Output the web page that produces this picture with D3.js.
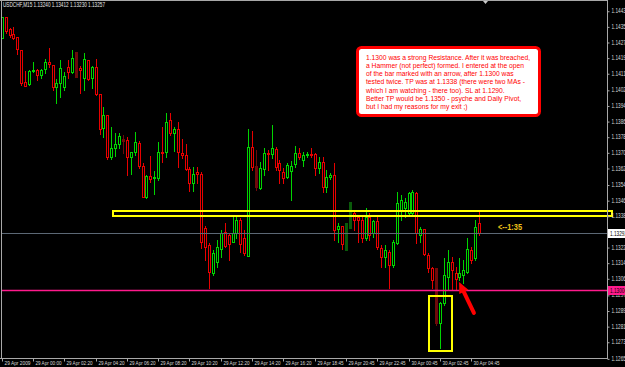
<!DOCTYPE html>
<html>
<head>
<meta charset="utf-8">
<script src="https://cdn.jsdelivr.net/npm/d3@7"></script>
<style>
html,body{margin:0;padding:0;background:#000;overflow:hidden}
svg{display:block}
</style>
</head>
<body>
<svg id="chart"></svg>
<script>
// USDCHF M15 bars
var opens=[1.14290,1.14398,1.14336,1.14311,1.14296,1.14229,1.14065,1.14055,1.14121,1.14127,
1.14101,1.14132,1.14168,1.14152,1.14040,1.14060,1.14040,1.14142,1.14116,1.14219,
1.14137,1.14086,1.14178,1.14086,1.14142,1.14004,1.13830,1.13896,1.13681,1.13727,
1.13748,1.13773,1.13768,1.13681,1.13707,1.13753,1.13635,1.13476,1.13584,1.13574,
1.13574,1.13707,1.13707,1.13871,1.13804,1.13825,1.13702,1.13691,1.13620,1.13548,
1.13604,1.13594,1.13318,1.13231,1.13087,1.13144,1.13210,1.13297,1.13282,1.13246,
1.13292,1.13359,1.13266,1.13174,1.13732,1.13635,1.13522,1.13620,1.13702,1.13697,
1.13722,1.13650,1.13604,1.13579,1.13609,1.13645,1.13702,1.13666,1.13691,1.13697,
1.13697,1.13625,1.13656,1.13528,1.13579,1.13589,1.13313,1.13328,1.13205,1.13318,
1.13394,1.13374,1.13359,1.13266,1.13374,1.13292,1.13353,1.13215,1.13169,1.13195,
1.13128,1.13241,1.13410,1.13420,1.13394,1.13394,1.13497,1.13282,1.13313,1.13179,
1.13113,1.13113,1.12831,1.12934,1.13067,1.13144,1.13087,1.13067,1.13077,1.13092,
1.13205,1.13164,1.13343];
var highs=[1.14398,1.14398,1.14342,1.14347,1.14296,1.14229,1.14121,1.14127,1.14168,1.14132,
1.14132,1.14183,1.14239,1.14152,1.14081,1.14178,1.14116,1.14178,1.14229,1.14219,
1.14147,1.14214,1.14178,1.14147,1.14183,1.14004,1.13937,1.13896,1.13835,1.13804,
1.13804,1.13794,1.13784,1.13707,1.13809,1.13763,1.13650,1.13589,1.13686,1.13609,
1.13758,1.13835,1.13906,1.13906,1.13835,1.13860,1.13773,1.13748,1.13630,1.13630,
1.13630,1.13604,1.13328,1.13241,1.13205,1.13256,1.13307,1.13343,1.13292,1.13374,
1.13384,1.13369,1.13307,1.13825,1.13814,1.13717,1.13656,1.13727,1.13717,1.13845,
1.13732,1.13666,1.13625,1.13650,1.13661,1.13737,1.13727,1.13707,1.13707,1.13727,
1.13702,1.13681,1.13681,1.13615,1.13599,1.13650,1.13343,1.13328,1.13343,1.13451,
1.13400,1.13384,1.13374,1.13420,1.13394,1.13359,1.13384,1.13231,1.13231,1.13205,
1.13256,1.13502,1.13487,1.13471,1.13502,1.13512,1.13502,1.13323,1.13313,1.13190,
1.13118,1.13113,1.12939,1.13164,1.13205,1.13169,1.13118,1.13164,1.13154,1.13266,
1.13220,1.13359,1.13400];
var lows=[1.14290,1.14316,1.14296,1.14285,1.14209,1.14050,1.14045,1.14050,1.14116,1.14075,
1.14086,1.14111,1.14142,1.14024,1.13958,1.13988,1.14024,1.14086,1.14111,1.14091,
1.14009,1.14024,1.14075,1.14034,1.13999,1.13799,1.13784,1.13671,1.13671,1.13686,
1.13727,1.13702,1.13589,1.13594,1.13691,1.13625,1.13476,1.13471,1.13553,1.13492,
1.13563,1.13656,1.13681,1.13794,1.13712,1.13630,1.13676,1.13615,1.13507,1.13507,
1.13548,1.13215,1.13154,1.13010,1.13077,1.13118,1.13169,1.13220,1.13154,1.13246,
1.13266,1.13195,1.13179,1.13174,1.13615,1.13512,1.13517,1.13589,1.13615,1.13676,
1.13615,1.13548,1.13548,1.13574,1.13461,1.13630,1.13671,1.13635,1.13681,1.13681,
1.13589,1.13599,1.13502,1.13502,1.13569,1.13256,1.13246,1.13210,1.13205,1.13318,
1.13307,1.13246,1.13246,1.13256,1.13256,1.13272,1.13210,1.13118,1.13118,1.13010,
1.13118,1.13236,1.13359,1.13374,1.13384,1.13384,1.13241,1.13246,1.13179,1.13092,
1.13010,1.12821,1.12703,1.12923,1.13000,1.13000,1.13000,1.13051,1.13036,1.13087,
1.13138,1.13154,1.13282];
var closes=[1.14398,1.14326,1.14306,1.14290,1.14234,1.14060,1.14045,1.14121,1.14127,1.14101,
1.14127,1.14168,1.14157,1.14040,1.14060,1.14137,1.14096,1.14116,1.14188,1.14091,
1.14127,1.14183,1.14081,1.14142,1.14004,1.13825,1.13896,1.13681,1.13727,1.13748,
1.13789,1.13763,1.13681,1.13707,1.13758,1.13635,1.13476,1.13584,1.13569,1.13579,
1.13707,1.13702,1.13860,1.13804,1.13825,1.13707,1.13691,1.13620,1.13548,1.13594,
1.13594,1.13246,1.13220,1.13092,1.13190,1.13220,1.13292,1.13225,1.13236,1.13292,
1.13359,1.13236,1.13190,1.13732,1.13630,1.13528,1.13625,1.13702,1.13697,1.13727,
1.13630,1.13615,1.13574,1.13640,1.13635,1.13702,1.13681,1.13691,1.13697,1.13691,
1.13625,1.13656,1.13528,1.13579,1.13589,1.13307,1.13328,1.13236,1.13343,1.13451,
1.13359,1.13359,1.13266,1.13374,1.13282,1.13353,1.13220,1.13169,1.13205,1.13128,
1.13246,1.13446,1.13461,1.13451,1.13497,1.13502,1.13292,1.13313,1.13185,1.13113,
1.13051,1.12831,1.12934,1.13077,1.13144,1.13103,1.13057,1.13087,1.13103,1.13210,
1.13154,1.13323,1.13292];
// bars drawn in the dark "ghost" colours
var dimBars=[19,31,65,88,89,111];

var priceTicks=[1.14430,1.14350,1.14270,1.14190,1.14110,1.14025,1.13945,1.13865,1.13785,1.13705,
1.13625,1.13540,1.13460,1.13380,1.13220,1.13140,1.13060,1.12975,1.12895,1.12815,1.12735,1.12650];
var timeTickBars=[0,8,16,24,32,40,48,56,64,72,80,88,96,104,112,120];
var timeLabels=["29 Apr 2009","29 Apr 00:00","29 Apr 02:20","29 Apr 04:20","29 Apr 06:20","29 Apr 08:20",
"29 Apr 10:20","29 Apr 12:20","29 Apr 14:20","29 Apr 16:20","29 Apr 18:45","29 Apr 20:45",
"29 Apr 22:45","30 Apr 00:45","30 Apr 02:45","30 Apr 04:45"];
var titleText="USDCHF,M15  1.13240 1.13412 1.13230 1.13257";

var resistanceZone=[1.13379,1.13405];   // yellow rectangle
var resistanceFrom=28.5, resistanceTo=156;
var supportLevel=1.13000;               // pink line
var hammerBox={from:109.1,to:115.2,top:1.12970,bottom:1.12688};
var arrowTail=[120.7,1.12883], arrowTip=[116.9,1.13041];
var timerText="<--1:35";
var noteLines=[
"1.1300 was a strong Resistance. After it was breached,",
"a Hammer (not perfect) formed. I entered at the open",
"of the bar marked with an arrow, after 1.1300 was",
"tested twice. TP was at 1.1338 (there were two MAs -",
"which I am watching - there too). SL at 1.1290.",
"Better TP would be 1.1350 - psyche and Daily Pivot,",
"but I had my reasons for my exit ;)"];

var W=625,H=367;
var UP="#00d400",DN="#e80000",UPDIM="#0a5a0a",DNDIM="#6e0a0a";
var FONT="'Liberation Sans',Arial,sans-serif";
var svg=d3.select("#chart").attr("width",W).attr("height",H);
svg.append("rect").attr("width",W).attr("height",H).attr("fill","#000");

var x=d3.scaleLinear().domain([0,122]).range([1.7,479]);
var y=d3.scaleLinear().domain([supportLevel,1.14485]).range([290,0]);
var px=function(i){return Math.round(x(i));};
var py=function(p){return Math.round(y(p));};

svg.append("clipPath").attr("id","plot").append("rect")
	.attr("x",2).attr("y",1).attr("width",605.5).attr("height",357);

var plot=svg.append("g").attr("clip-path","url(#plot)");

var bars=d3.range(opens.length).map(function(i){
	return {i:i,o:opens[i],h:highs[i],l:lows[i],c:closes[i],dim:dimBars.indexOf(i)>=0};
});

function col(d){
	if(d.dim) return d.c>=d.o?UPDIM:DNDIM;
	return d.c>=d.o?UP:DN;
}

// wicks
plot.selectAll("line.wick").data(bars).enter().append("line")
	.attr("class","wick")
	.attr("x1",function(d){return px(d.i)+0.5;})
	.attr("x2",function(d){return px(d.i)+0.5;})
	.attr("y1",function(d){return py(d.h);})
	.attr("y2",function(d){return py(d.l)+1;})
	.attr("stroke",function(d){return col(d);})
	.attr("stroke-width",1);

// bodies (hollow)
plot.selectAll("rect.body").data(bars).enter().append("rect")
	.attr("class","body")
	.attr("x",function(d){return px(d.i)-0.5;})
	.attr("y",function(d){return py(Math.max(d.o,d.c))+0.5;})
	.attr("width",2)
	.attr("height",function(d){return Math.max(py(Math.min(d.o,d.c))-py(Math.max(d.o,d.c)),0);})
	.attr("fill",function(d){return d.dim?col(d):"#000";})
	.attr("stroke",function(d){return col(d);})
	.attr("stroke-width",1);

// current price line
var last=closes[closes.length-1];
svg.append("line").attr("x1",2).attr("x2",607).attr("y1",py(last)+0.5).attr("y2",py(last)+0.5)
	.attr("stroke","#5c6875").attr("stroke-width",1);

// support line
svg.append("line").attr("x1",2).attr("x2",607).attr("y1",py(supportLevel)+0.5).attr("y2",py(supportLevel)+0.5)
	.attr("stroke","#ff1a8c").attr("stroke-width",1.5);

// yellow resistance zone
svg.append("rect")
	.attr("x",px(resistanceFrom)).attr("y",py(resistanceZone[1]))
	.attr("width",px(resistanceTo)-px(resistanceFrom))
	.attr("height",py(resistanceZone[0])-py(resistanceZone[1]))
	.attr("fill","none").attr("stroke","#ffff00").attr("stroke-width",2);

// hammer box
svg.append("rect")
	.attr("x",px(hammerBox.from)).attr("y",py(hammerBox.top))
	.attr("width",px(hammerBox.to)-px(hammerBox.from))
	.attr("height",py(hammerBox.bottom)-py(hammerBox.top))
	.attr("fill","none").attr("stroke","#ffff00").attr("stroke-width",2);

// red arrow
var ax1=x(arrowTail[0]),ay1=y(arrowTail[1]),ax2=x(arrowTip[0]),ay2=y(arrowTip[1]);
var dx=ax2-ax1,dy=ay2-ay1,len=Math.sqrt(dx*dx+dy*dy),ux=dx/len,uy=dy/len;
var hl=11,hw=5;
svg.append("line").attr("x1",ax1).attr("y1",ay1)
	.attr("x2",ax2-ux*hl).attr("y2",ay2-uy*hl)
	.attr("stroke","#ff0000").attr("stroke-width",4).attr("stroke-linecap","round");
svg.append("path")
	.attr("d","M"+ax2+","+ay2+"L"+(ax2-ux*hl-uy*hw)+","+(ay2-uy*hl+ux*hw)+"L"+(ax2-ux*hl+uy*hw)+","+(ay2-uy*hl-ux*hw)+"Z")
	.attr("fill","#ff0000");

// timer text
svg.append("text").attr("x",498).attr("y",230).text(timerText)
	.attr("fill","#f0c419").attr("font-family",FONT)
	.attr("font-size","8.5px").attr("font-weight","bold")
	.attr("textLength",24).attr("lengthAdjust","spacingAndGlyphs");

// note box
var note=svg.append("g");
note.append("rect").attr("x",357.5).attr("y",47.5).attr("width",182).attr("height",68)
	.attr("rx",4).attr("fill","#fff").attr("stroke","#ff0000").attr("stroke-width",3);
var nt=note.selectAll("text").data(noteLines).enter().append("text")
	.attr("x",366).attr("y",function(d,k){return 59.5+k*8.3;})
	.text(function(d){return d;})
	.attr("fill","#ff0000").attr("font-family",FONT)
	.attr("font-size","7.8px");
var k0=164/nt.node().getComputedTextLength();
nt.each(function(){
	var t=d3.select(this);
	t.attr("textLength",this.getComputedTextLength()*k0).attr("lengthAdjust","spacingAndGlyphs");
});

// frame
var frame="#a8a8a8";
svg.append("line").attr("x1",0).attr("x2",608).attr("y1",0.5).attr("y2",0.5).attr("stroke",frame);
svg.append("line").attr("x1",1.5).attr("x2",1.5).attr("y1",0).attr("y2",358).attr("stroke",frame);
svg.append("line").attr("x1",607.5).attr("x2",607.5).attr("y1",0).attr("y2",359).attr("stroke",frame);
svg.append("line").attr("x1",0).attr("x2",608).attr("y1",358.5).attr("y2",358.5).attr("stroke",frame);
svg.append("path").attr("d","M483,1L488,1L485.5,4Z").attr("fill","#c8c8c8");

// right price axis
var ya=svg.append("g").attr("transform","translate(607.5,0)")
	.call(d3.axisRight(y).tickValues(priceTicks).tickFormat(d3.format(".5f")).tickSize(2).tickPadding(2));
ya.select(".domain").remove();
ya.selectAll("line").attr("stroke",frame).attr("transform","translate(0,0.5)");
ya.selectAll("text").attr("fill","#d8d8d8").attr("font-family",FONT)
	.attr("font-size","6.5px").attr("textLength",17).attr("lengthAdjust","spacingAndGlyphs");

// price labels on axis
function priceTag(p,bg,fg){
	var g=svg.append("g");
	g.append("rect").attr("x",608).attr("y",py(p)-4).attr("width",18).attr("height",9).attr("fill",bg);
	g.append("text").attr("x",610).attr("y",py(p)+3).text(d3.format(".5f")(p))
		.attr("fill",fg).attr("font-family",FONT).attr("font-size","6.5px")
		.attr("textLength",17).attr("lengthAdjust","spacingAndGlyphs");
}
priceTag(last,"#ffffff","#000");
priceTag(supportLevel,"#ff1a8c","#000");

// bottom time axis
var xa=svg.append("g").attr("transform","translate(0,358.5)")
	.call(d3.axisBottom(x).tickValues(timeTickBars).tickFormat(function(d,k){return timeLabels[k];}).tickSize(3).tickPadding(1));
xa.select(".domain").remove();
xa.selectAll(".tick").attr("transform",function(d){return "translate("+(px(d)+0.5)+",0)";});
xa.selectAll("line").attr("stroke",frame);
xa.selectAll("text").attr("fill","#d8d8d8").attr("text-anchor","start").attr("x",2).attr("dy","0.45em")
	.attr("font-family",FONT).attr("font-size","6px")
	.attr("textLength",26).attr("lengthAdjust","spacingAndGlyphs");

// title
svg.append("text").attr("x",3).attr("y",7).text(titleText)
	.attr("fill","#e8e8e8").attr("font-family",FONT)
	.attr("font-size","6.5px").attr("textLength",102).attr("lengthAdjust","spacingAndGlyphs");
</script>
</body>
</html>
